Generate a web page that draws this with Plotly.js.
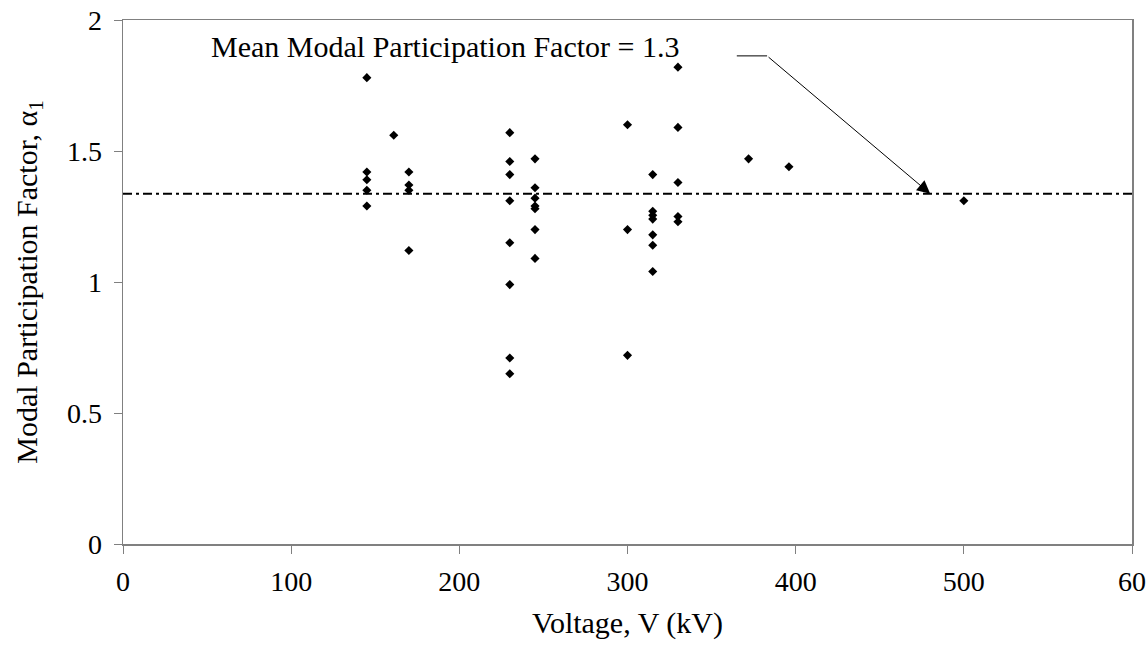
<!DOCTYPE html>
<html>
<head>
<meta charset="utf-8">
<script src="https://cdn.plot.ly/plotly-3.0.1.min.js"></script>
<style>html,body{margin:0;padding:0;background:#fff;}#chart{width:1146px;height:656px;}</style>
</head>
<body>
<div id="chart"></div>
<script>
// Data
const voltageKV = [145,145,145,145,145, 161, 170,170,170,170,
  230,230,230,230,230,230,230,230,
  245,245,245,245,245,245,245,
  300,300,300,
  315,315,315,315,315,315,315,
  330,330,330,330,330,
  372, 396, 500];
const alpha1 = [1.78,1.42,1.39,1.35,1.29, 1.56, 1.42,1.37,1.35,1.12,
  1.57,1.46,1.41,1.31,1.15,0.99,0.71,0.65,
  1.47,1.36,1.32,1.29,1.28,1.20,1.09,
  1.60,1.20,0.72,
  1.41,1.27,1.255,1.24,1.18,1.14,1.04,
  1.82,1.59,1.38,1.25,1.23,
  1.47, 1.44, 1.31];
const meanValue = 1.337;
const meanLabel = "Mean Modal Participation Factor = 1.3";
const xTicks = [0,100,200,300,400,500,600];
const xTickText = ["0","100","200","300","400","500","60"];
const yTicks = [0,0.5,1,1.5,2];
const yTickText = ["0","0.5","1","1.5","2"];

const FONT = "Times New Roman, Liberation Serif, serif";
const axisGray = "#808080";

const traces = [{
  type: "scatter", mode: "markers",
  x: voltageKV, y: alpha1,
  marker: {symbol: "diamond", size: 7, color: "#000"},
  showlegend: false, hoverinfo: "x+y"
}];

const layout = {
  width: 1146, height: 656,
  margin: {l: 123, r: 14, t: 20, b: 112},
  paper_bgcolor: "#fff", plot_bgcolor: "#fff",
  font: {family: FONT, size: 28, color: "#000"},
  showlegend: false,
  xaxis: {
    range: [0, 600], tickvals: xTicks, ticktext: xTickText,
    showgrid: false, zeroline: false,
    showline: true, linecolor: axisGray, linewidth: 1.5, mirror: true,
    ticks: "outside", ticklen: 8, tickcolor: axisGray, tickwidth: 1,
    ticklabelstandoff: 4,
    tickfont: {family: FONT, size: 28, color: "#000"},
    title: {text: "Voltage, V (kV)", font: {family: FONT, size: 30, color: "#000"}, standoff: 16},
    automargin: false
  },
  yaxis: {
    range: [0, 2], tickvals: yTicks, ticktext: yTickText,
    showgrid: false, zeroline: false,
    showline: true, linecolor: axisGray, linewidth: 1.5, mirror: true,
    ticks: "outside", ticklen: 8, tickcolor: axisGray, tickwidth: 1,
    ticklabelstandoff: 6,
    tickfont: {family: FONT, size: 28, color: "#000"},
    title: {text: "Modal Participation Factor, α<sub>1</sub>", font: {family: FONT, size: 30, color: "#000"}, standoff: 20},
    automargin: false
  },
  shapes: [
    {type: "line", xref: "paper", x0: 0, x1: 1, yref: "y", y0: meanValue, y1: meanValue,
     line: {color: "#000", width: 2, dash: "9px,4px,3px,4px"}},
    {type: "line", xref: "x", yref: "y", x0: 365, x1: 383, y0: 1.863, y1: 1.863,
     line: {color: "#000", width: 1}}
  ],
  annotations: [
    {x: 192, y: 1.897, xref: "x", yref: "y", text: meanLabel, showarrow: false,
     font: {family: FONT, size: 30, color: "#000"}},
    {x: 480, y: meanValue, xref: "x", yref: "y", ax: 383, ay: 1.863, axref: "x", ayref: "y",
     text: "", showarrow: true, arrowhead: 2, arrowsize: 2.6, arrowwidth: 1, arrowcolor: "#000"}
  ]
};

Plotly.newPlot("chart", traces, layout, {displayModeBar: false, staticPlot: true});
</script>
</body>
</html>
